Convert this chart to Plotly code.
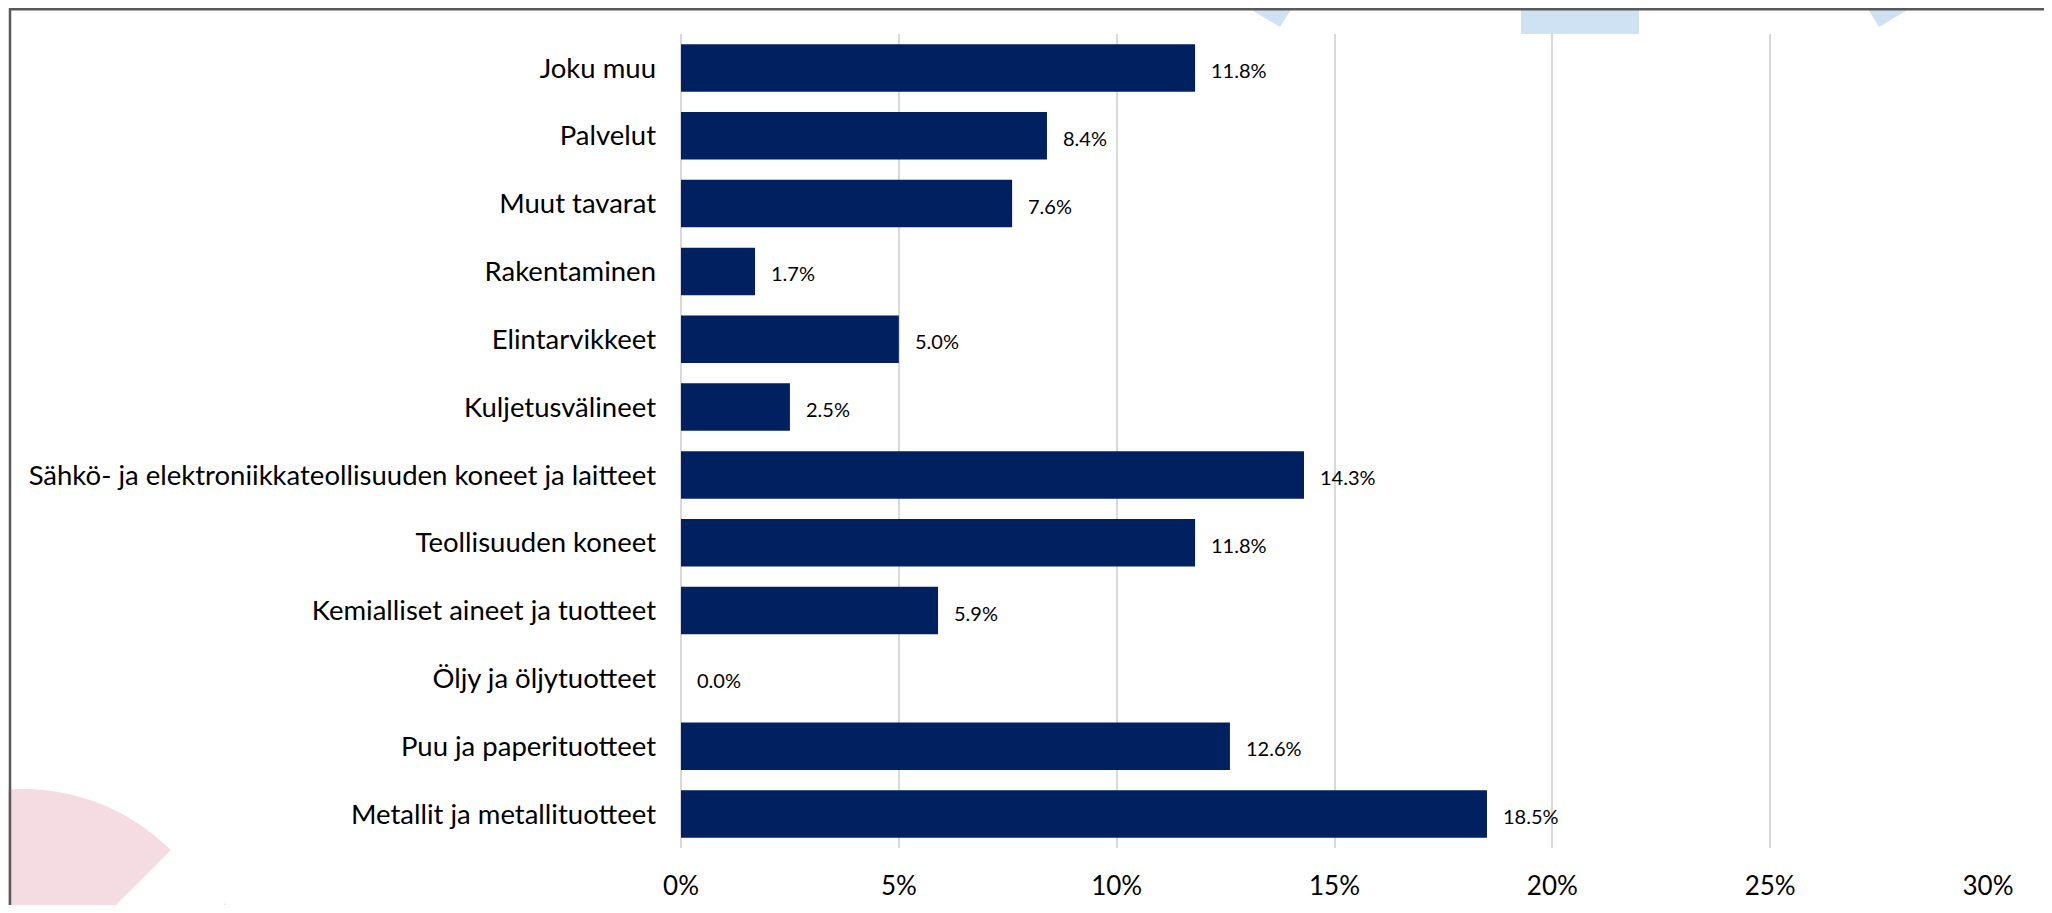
import numpy as np
import plotly.graph_objects as go

# ---- data (top to bottom as shown) ----
categories = [
    "Joku muu",
    "Palvelut",
    "Muut tavarat",
    "Rakentaminen",
    "Elintarvikkeet",
    "Kuljetusvälineet",
    "Sähkö- ja elektroniikkateollisuuden koneet ja laitteet",
    "Teollisuuden koneet",
    "Kemialliset aineet ja tuotteet",
    "Öljy ja öljytuotteet",
    "Puu ja paperituotteet",
    "Metallit ja metallituotteet",
]
shares = [0.118, 0.084, 0.076, 0.017, 0.050, 0.025, 0.143, 0.118, 0.059, 0.000, 0.126, 0.185]
x_ticks = [0, 0.05, 0.10, 0.15, 0.20, 0.25, 0.30]
x_tick_labels = ["0%", "5%", "10%", "15%", "20%", "25%", "30%"]

# ---- layout geometry ----
# page body has an 8px margin, so the figure starts at (8, 8) on screen
OFF = 8
W, H = 2052 - 2 * OFF, 913 - 2 * OFF
PLOT_X0, PLOT_X1 = 681 - OFF, 1988 - OFF      # figure pixels
PLOT_Y0, PLOT_Y1 = 34 - OFF, 848 - OFF
L, R, T, B = PLOT_X0, W - PLOT_X1, PLOT_Y0, H - PLOT_Y1
PW, PH = PLOT_X1 - PLOT_X0, PLOT_Y1 - PLOT_Y0


def px(x):  # screen x -> paper
    return (x - OFF - L) / PW


def py(y):  # screen y -> paper
    return (PLOT_Y1 - (y - OFF)) / PH


BAR = "#002060"
FONT = "Lato, 'Open Sans', sans-serif"

fig = go.Figure()
fig.add_trace(go.Bar(
    x=shares, y=categories, orientation="h",
    marker=dict(color=BAR, line=dict(width=0)),
    hoverinfo="skip",
))

annotations = []
for c, v in zip(categories, shares):
    annotations.append(dict(
        x=v, y=c, xref="x", yref="y", text=f"{v*100:.1f}%",
        showarrow=False, xanchor="left", yanchor="middle",
        xshift=14, yshift=-2,
        font=dict(family=FONT, size=20, color="#000000"),
    ))

shapes = []
blue = "#CFE2F3"
pink = "#F5DCE2"


def poly(points, color):
    d = "M " + " L ".join(f"{px(a):.5f},{py(b):.5f}" for a, b in points) + " Z"
    return dict(type="path", xref="paper", yref="paper", path=d,
                fillcolor=color, line=dict(width=0), layer="below")


# decorative background pieces (screen pixel positions)
shapes.append(poly([(1215, -12), (1305, -12), (1280, 27)], blue))
shapes.append(poly([(1521, -12), (1639, -12), (1639, 34), (1521, 34)], blue))
shapes.append(poly([(1855, -12), (1944, -12), (1879, 27)], blue))
cx, cy, r = 23, 998, 209
ang = np.linspace(np.pi / 4, np.pi * 1.15, 80)
arc = [(cx + r * np.cos(a), cy - r * np.sin(a)) for a in ang]
shapes.append(poly([(cx, cy)] + arc, pink))
shapes.append(poly([(225, 903), (236, 925), (213, 925)], pink))
# frame
shapes.append(dict(type="rect", xref="paper", yref="paper",
                   x0=px(10), x1=px(2048), y0=py(960), y1=py(OFF + 1.2),
                   line=dict(color="#595959", width=2.5), fillcolor="rgba(0,0,0,0)",
                   layer="above"))

fig.update_layout(
    width=W, height=H,
    margin=dict(l=L, r=R, t=T, b=B, autoexpand=False),
    paper_bgcolor="white", plot_bgcolor="white",
    bargap=0.30, showlegend=False,
    annotations=annotations, shapes=shapes,
    font=dict(family=FONT, color="#000000"),
)
fig.update_xaxes(
    range=[0, 0.30], tickvals=x_ticks, ticktext=x_tick_labels,
    showgrid=True, gridcolor="#D9D9D9", gridwidth=2,
    zeroline=True, zerolinecolor="#D9D9D9", zerolinewidth=2,
    showline=False, ticks="", ticklabelstandoff=20,
    tickfont=dict(family=FONT, size=26, color="#000000"),
)
fig.update_yaxes(
    autorange="reversed", showgrid=False, zeroline=False, showline=False,
    ticks="", ticklabelstandoff=24,
    tickfont=dict(family=FONT, size=27.5, color="#000000"),
)

fig.write_html("out.html")
